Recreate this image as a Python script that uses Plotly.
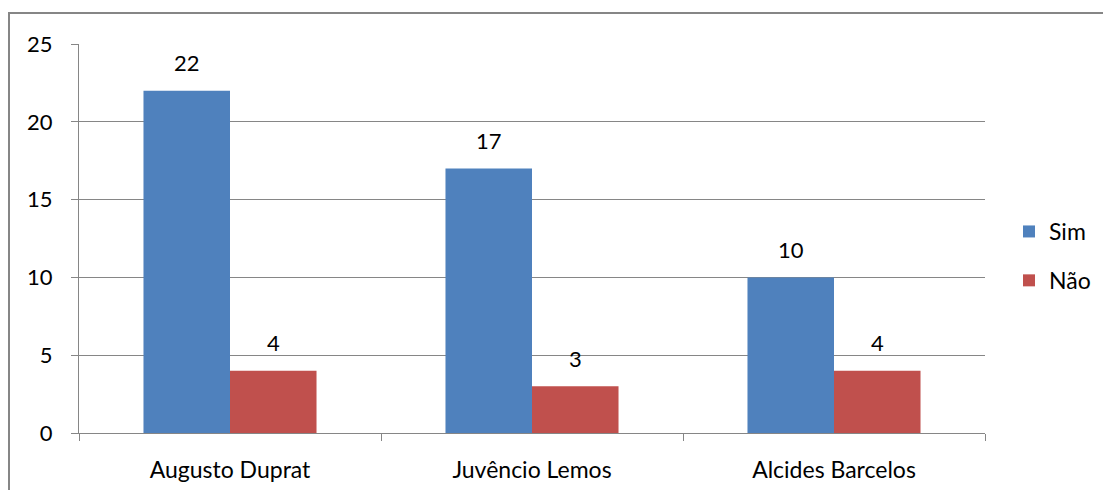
import plotly.graph_objects as go

# Escolas e respostas
escolas = ["Augusto Duprat", "Juvêncio Lemos", "Alcides Barcelos"]
sim = [22, 17, 10]
nao = [4, 3, 4]
y_ticks = [0, 5, 10, 15, 20, 25]

AZUL = "#4F81BD"
VERMELHO = "#C0504D"
CINZA = "#868686"
FONTE = "Lato, 'Open Sans', sans-serif"
TAM = 23

W, H = 1103, 490
ML, MR, MT, MB = 79, 118, 44, 57
PW, PH = W - ML - MR, H - MT - MB

BARGAP = 0.427
bar_w = (1 - BARGAP) / 2

fig = go.Figure()
fig.add_bar(name="Sim", x=escolas, y=sim, legendgroup="sim",
            marker=dict(color=AZUL, line=dict(width=0)))
fig.add_bar(name="Não", x=escolas, y=nao, legendgroup="nao",
            marker=dict(color=VERMELHO, line=dict(width=0)))

# Rótulos de valor acima de cada barra
annotations = []
for serie, desloc in ((sim, -bar_w / 2), (nao, bar_w / 2)):
    for i, v in enumerate(serie):
        annotations.append(dict(
            x=i + desloc, y=v, xref="x", yref="y", text=str(v),
            showarrow=False, yanchor="middle", yshift=28,
            font=dict(family=FONTE, size=22, color="#000000"),
        ))

# Moldura externa do gráfico (bordas esquerda e superior)
def px_x(p):
    return (p - ML) / PW

def px_y(p):
    return (H - MB - p) / PH

fig.add_shape(type="path", xref="paper", yref="paper",
              path=f"M {px_x(9)} {px_y(600)} L {px_x(9)} {px_y(13)} L {px_x(1200)} {px_y(13)}",
              line=dict(color=CINZA, width=2))

fig.update_layout(
    width=W, height=H,
    margin=dict(l=ML, r=MR, t=MT, b=MB, autoexpand=False),
    paper_bgcolor="white", plot_bgcolor="white",
    barmode="group", bargap=BARGAP, bargroupgap=0,
    font=dict(family=FONTE, size=TAM, color="#000000"),
    showlegend=True,
    legend=dict(x=px_x(1009), y=px_y(256), xanchor="left", yanchor="middle",
                font=dict(family=FONTE, size=TAM), itemwidth=30,
                tracegroupgap=16, bgcolor="rgba(0,0,0,0)"),
    annotations=annotations,
    xaxis=dict(
        type="category", range=[-0.5, 2.5],
        showline=True, linecolor=CINZA, linewidth=1,
        ticks="outside", tickson="boundaries", ticklen=7, tickcolor=CINZA,
        ticklabelstandoff=16, showgrid=False, zeroline=False,
        tickfont=dict(family=FONTE, size=TAM),
    ),
    yaxis=dict(
        range=[0, 25], tickvals=y_ticks,
        showline=True, linecolor=CINZA, linewidth=1,
        ticks="outside", ticklen=7, tickcolor=CINZA,
        ticklabelstandoff=14,
        showgrid=True, gridcolor=CINZA, gridwidth=1, zeroline=False,
        tickfont=dict(family=FONTE, size=22),
    ),
)

fig.write_html("out.html")
